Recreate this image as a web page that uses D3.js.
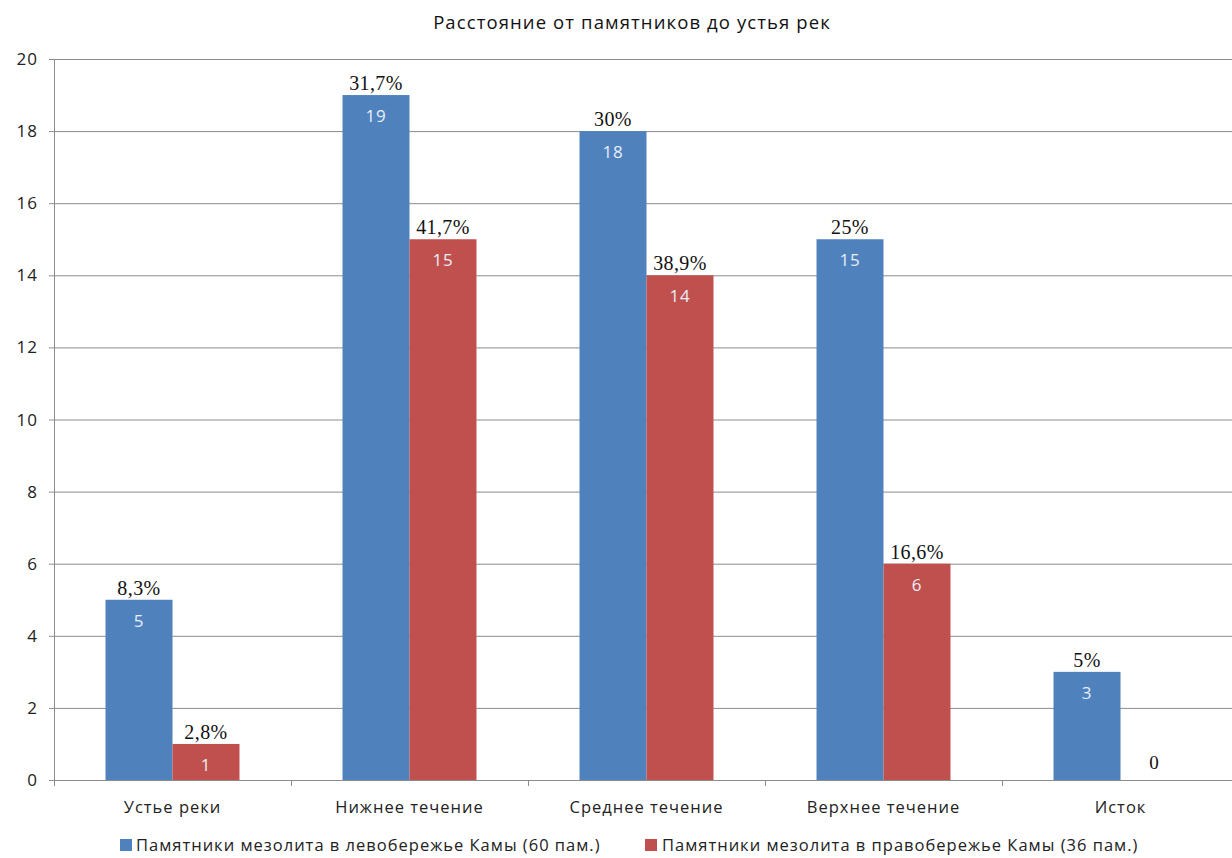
<!DOCTYPE html>
<html><head><meta charset="utf-8">
<script src="https://cdn.jsdelivr.net/npm/d3@7"></script>
<style>body{margin:0;background:#fff}</style>
</head><body>
<svg id="c" width="1232" height="858"></svg>
<script>
const categories = ["Устье реки","Нижнее течение","Среднее течение","Верхнее течение","Исток"];
const leftValues = [5,19,18,15,3];
const rightValues = [1,15,14,6,0];
const leftPct = ["8,3%","31,7%","30%","25%","5%"];
const rightPct = ["2,8%","41,7%","38,9%","16,6%",""];
const seriesNames = ["Памятники мезолита в левобережье Камы (60 пам.)","Памятники мезолита в правобережье Камы (36 пам.)"];
const yTicks = [0,2,4,6,8,10,12,14,16,18,20];
const title = "Расстояние от памятников до устья рек";

const colors = ["#4F81BD","#C0504D"];
const svg = d3.select("#c");
const L = 54, R = 1239, T = 59, B = 780;
const x = d3.scaleBand().domain(categories).range([L,R]).padding(0);
const y = d3.scaleLinear().domain([0,20]).range([B,T]);
const sub = d3.scaleBand().domain([0,1]).range([0,x.bandwidth()]).paddingInner(0).paddingOuter(0.769);
const sans = "'Open Sans', 'Noto Sans', sans-serif";
const serif = "'Liberation Serif', 'DejaVu Serif', serif";

svg.append("text").attr("x",632).attr("y",29).attr("text-anchor","middle")
  .attr("font-family",sans).attr("font-size",18.5).attr("letter-spacing",1.1).attr("fill","#111").text(title);

// grid
svg.append("g").selectAll("line").data(yTicks).join("line")
  .attr("x1",L-5).attr("x2",1232).attr("y1",d=>y(d)+0.5).attr("y2",d=>y(d)+0.5)
  .attr("stroke","#8c8c8c").attr("stroke-width",1);
// y axis
svg.append("line").attr("x1",L+0.5).attr("x2",L+0.5).attr("y1",T).attr("y2",B).attr("stroke","#8c8c8c");
svg.append("g").selectAll("text").data(yTicks).join("text")
  .attr("x",38).attr("y",d=>y(d)+6).attr("text-anchor","end")
  .attr("font-family",sans).attr("font-size",17).attr("letter-spacing",1).attr("fill","#222").text(d=>d);
// x ticks
svg.append("g").selectAll("line").data(d3.range(categories.length+1)).join("line")
  .attr("x1",i=>Math.round(L+i*x.step())+0.5).attr("x2",i=>Math.round(L+i*x.step())+0.5)
  .attr("y1",B).attr("y2",B+6).attr("stroke","#8c8c8c");
svg.append("g").selectAll("text").data(categories).join("text")
  .attr("x",d=>x(d)+x.bandwidth()/2).attr("y",B+33).attr("text-anchor","middle")
  .attr("font-family",sans).attr("font-size",16.5).attr("letter-spacing",1).attr("fill","#222").text(d=>d);

const series = [leftValues,rightValues];
const pcts = [leftPct,rightPct];
series.forEach((vals,s)=>{
  const g = svg.append("g");
  const data = vals.map((v,i)=>({v,c:categories[i],i}));
  g.selectAll("rect").data(data).join("rect")
    .attr("x",d=>x(d.c)+sub(s)).attr("width",sub.bandwidth())
    .attr("y",d=>y(d.v)).attr("height",d=>B-y(d.v)).attr("fill",colors[s]);
  g.selectAll("text.v").data(data).join("text")
    .attr("class","v")
    .attr("x",d=>x(d.c)+sub(s)+sub.bandwidth()/2)
    .attr("y",d=>d.v>0? y(d.v)+27 : B-11)
    .attr("text-anchor","middle")
    .attr("font-family",d=>d.v>0? sans : serif)
    .attr("font-size",d=>d.v>0?17:19)
    .attr("letter-spacing",d=>d.v>0?0.8:0)
    .attr("fill",d=>d.v>0? "#e8eefa" : "#111").text(d=>d.v);
  g.selectAll("text.p").data(data).join("text")
    .attr("class","p")
    .attr("x",d=>x(d.c)+sub(s)+sub.bandwidth()/2)
    .attr("y",d=>y(d.v)-5)
    .attr("text-anchor","middle")
    .attr("font-family",serif).attr("font-size",20).attr("letter-spacing",0.4).attr("fill","#111")
    .text(d=>pcts[s][d.i]);
});

// legend
const leg = [{x:120,tx:136},{x:645,tx:662}];
seriesNames.forEach((n,i)=>{
  svg.append("rect").attr("x",leg[i].x).attr("y",839).attr("width",12).attr("height",12).attr("fill",colors[i]);
  svg.append("text").attr("x",leg[i].tx).attr("y",851).attr("font-family",sans)
    .attr("font-size",16.5).attr("letter-spacing",1).attr("fill","#222").text(n);
});
</script>
</body></html>
